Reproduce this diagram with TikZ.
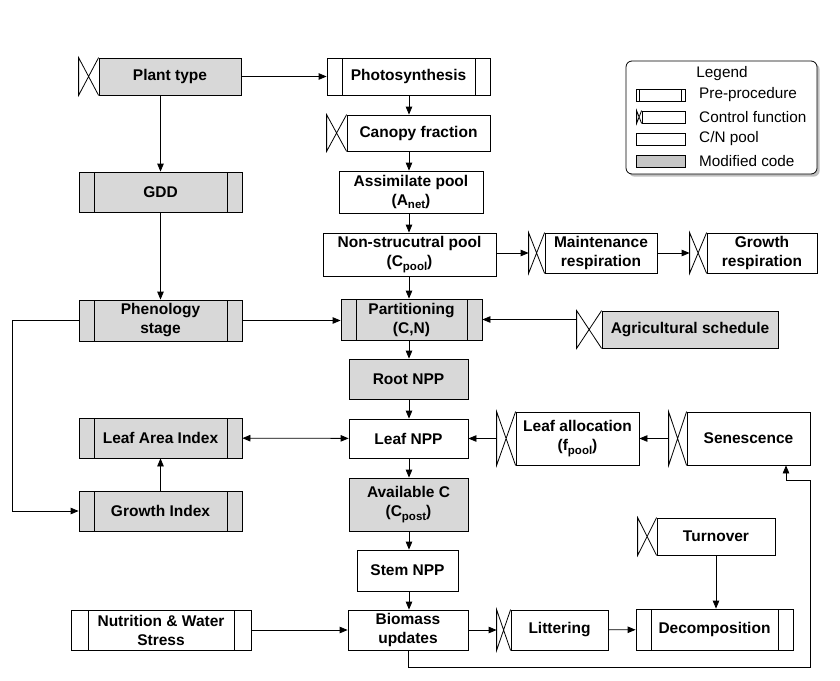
\documentclass[tikz,border=0pt]{standalone}
\usepackage{fontspec}
\setmainfont{Liberation Sans}
\usepackage{tikz}
\usetikzlibrary{arrows.meta,calc,shadows}
\definecolor{modgray}{RGB}{216,216,216}
\newcommand{\lowtext}[1]{\raisebox{-0.45ex}{\fontsize{11.5}{12}\selectfont #1}}

\tikzset{
	box/.style={draw, line width=0.8pt, align=center, inner sep=2pt, font=\fontsize{15.5}{19}\selectfont\bfseries},
	mod/.style={fill=modgray},
	pre/.style={box, path picture={
		\draw[line width=0.8pt] ([xshift=#1]path picture bounding box.north west) -- ([xshift=#1]path picture bounding box.south west);
		\draw[line width=0.8pt] ([xshift=-#1]path picture bounding box.north east) -- ([xshift=-#1]path picture bounding box.south east);}},
	pre/.default=15pt,
	flow/.style={-{Triangle[length=8pt,width=6.5pt]}, line width=0.8pt},
	twoway/.style={{Triangle[length=8pt,width=6.5pt]}-{Triangle[length=8pt,width=6.5pt]}, line width=0.8pt},
	lgtext/.style={anchor=west, inner sep=0pt, font=\fontsize{15.3}{17}\selectfont}
}

\begin{document}
\begin{tikzpicture}[x=1pt, y=-1pt]
				\useasboundingbox (0,0) rectangle (840,680);
				\node[box, mod, minimum width=142pt, minimum height=37pt] (plant) at (170,76.5) {Plant type};
				\node[pre, minimum width=163pt, minimum height=37pt] (photo) at (408.5,76.5) {Photosynthesis};
				\node[box, minimum width=143pt, minimum height=36pt] (canopy) at (418.5,133) {Canopy fraction};
				\node[box, minimum width=144pt, minimum height=42pt] (assim) at (411,192) {Assimilate pool\\(A\lowtext{net})};
				\node[box, minimum width=173pt, minimum height=43pt] (nonstr) at (409.5,254.5) {Non-strucutral pool\\(C\lowtext{pool})};
				\node[box, minimum width=112pt, minimum height=40pt] (maint) at (601,253) {Maintenance\\respiration};
				\node[box, minimum width=110pt, minimum height=40pt] (growth) at (762,253) {Growth\\respiration};
				\node[pre, mod, minimum width=163pt, minimum height=40pt] (gdd) at (160.5,192) {GDD};
				\node[pre, mod, minimum width=163pt, minimum height=41pt] (phen) at (160.5,320.5) {Phenology\\stage};
				\node[pre, mod, minimum width=141pt, minimum height=41pt] (part) at (411.5,319.5) {Partitioning\\(C,N)};
				\node[box, mod, minimum width=176pt, minimum height=37pt] (agri) at (690,329.5) {Agricultural schedule};
				\node[box, mod, minimum width=119pt, minimum height=40pt] (root) at (408.5,379) {Root NPP};
				\node[pre, mod, minimum width=163pt, minimum height=40pt] (lai) at (160.5,438) {Leaf Area Index};
				\node[box, minimum width=119pt, minimum height=39pt] (leafnpp) at (408.5,438.5) {Leaf NPP};
				\node[box, minimum width=123pt, minimum height=53pt] (alloc) at (577.5,438.5) {Leaf allocation\\(f\lowtext{pool})};
				\node[box, minimum width=123pt, minimum height=53pt] (senes) at (748.5,438.5) {Senescence};
				\node[box, mod, minimum width=119pt, minimum height=53pt] (avail) at (408.5,504.5) {Available C\\(C\lowtext{post})};
				\node[pre, mod, minimum width=163pt, minimum height=40pt] (gindex) at (160.5,511) {Growth Index};
				\node[box, minimum width=118pt, minimum height=37pt] (turn) at (716,536.5) {Turnover};
				\node[box, minimum width=101pt, minimum height=41pt] (stem) at (407.5,570.5) {Stem NPP};
				\node[pre=17pt, minimum width=180pt, minimum height=40pt] (nutr) at (161,630) {Nutrition \& Water\\Stress};
				\node[box, minimum width=120pt, minimum height=40pt] (biom) at (408,630) {Biomass\\updates};
				\node[box, minimum width=97pt, minimum height=40pt] (litt) at (559.5,630) {Littering};
				\node[pre, minimum width=157pt, minimum height=41pt] (decomp) at (714.5,629.5) {Decomposition};

				\node[draw, line width=0.8pt, rounded corners=6pt, fill=white, drop shadow, minimum width=191pt, minimum height=113pt] (legend) at (721.5,117.5) {};
				\node[lgtext, anchor=center] (lgtitle) at (722,74) {Legend};
				\node[pre=3.5pt, inner sep=0pt, minimum width=49pt, minimum height=12pt] (lgpre) at (660.5,95) {};
				\node[box, inner sep=0pt, minimum width=43pt, minimum height=12pt] (lgctrl) at (663.5,117) {};
				\node[box, inner sep=0pt, minimum width=49pt, minimum height=12pt] (lgpool) at (660.5,139) {};
				\node[box, inner sep=0pt, minimum width=49pt, minimum height=12pt, left color=gray!45, middle color=gray!15, right color=gray!45] (lgmod) at (660.5,161) {};
				\node[lgtext] at (699,95) {Pre-procedure};
				\node[lgtext] at (699,117) {Control function};
				\node[lgtext] at (699,139) {C/N pool};
				\node[lgtext] at (699,161) {Modified code};

				\foreach \n/\w in {plant/20, canopy/20, maint/16, growth/17, agri/25, alloc/19, senes/18, turn/19, litt/14, lgctrl/5} {
					\draw[line width=0.8pt] (\n.north west) -- ($(\n.south west)+(-\w,0)$) -- ($(\n.north west)+(-\w,0)$) -- (\n.south west);
					\coordinate (\n-in) at ($(\n.west)+(-\w,0)$);
				}

				\coordinate (col) at (409,0);
				\foreach \a/\b in {photo/canopy, canopy/assim, assim/nonstr, nonstr/part, part/root, root/leafnpp, leafnpp/avail, avail/stem, stem/biom}
					\draw[flow] (col |- \a.south) -- (col |- \b.north);

				\draw[flow] (plant) -- (photo);
				\draw[flow] (gdd.north |- plant.south) -- (gdd.north);
				\draw[flow] (gdd) -- (phen);
				\draw[flow] (phen.east) -- (phen.east -| part.west);
				\draw[flow] (nonstr.east |- maint-in) -- (maint-in);
				\draw[flow] (maint) -- (growth-in);
				\draw[flow] (agri-in |- part.east) -- (part.east);
				\draw[twoway] (lai) -- (leafnpp);
				\draw[flow] (gindex) -- (lai);
				\draw[flow] (senes-in) -- (alloc);
				\draw[flow] (alloc-in) -- (leafnpp);
				\draw[flow] (nutr) -- (biom);
				\draw[flow] (biom) -- (litt-in);
				\draw[flow] (litt) -- (decomp);
				\draw[flow] (turn.south) -- (turn.south |- decomp.north);

				\coordinate (lp) at (12,0);
				\draw[flow] (phen.west) -- (lp |- phen.west) |- (gindex.west);
				\coordinate (fb) at (810,667);
				\coordinate (fbup) at (786,480);
				\draw[flow] (biom.south) |- (fb) |- (fbup) -- (fbup |- senes.south);
			\end{tikzpicture}
\end{document}
